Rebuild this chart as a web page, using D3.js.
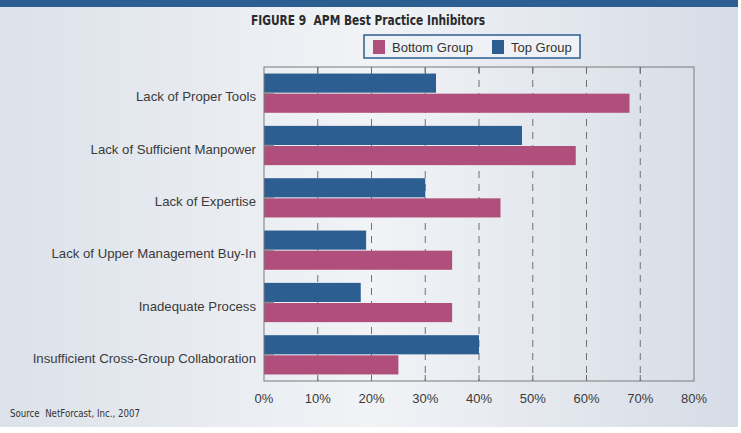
<!DOCTYPE html>
<html>
<head>
<meta charset="utf-8">
<script src="https://cdn.jsdelivr.net/npm/d3@7"></script>
<style>
  body { margin: 0; background: #fff; }
  svg { display: block; }
  text { white-space: pre; }
</style>
</head>
<body>
<svg id="chart" width="741" height="433"></svg>
<script>
// data
const categories = [
    'Lack of Proper Tools',
    'Lack of Sufficient Manpower',
    'Lack of Expertise',
    'Lack of Upper Management Buy-In',
    'Inadequate Process',
    'Insufficient Cross-Group Collaboration',
];
const topGroup = [32, 48, 30, 19, 18, 40];
const bottomGroup = [68, 58, 44, 35, 35, 25];
const seriesNames = ['Top Group', 'Bottom Group'];
const legendOrder = ['Bottom Group', 'Top Group'];
const xTicks = [0, 10, 20, 30, 40, 50, 60, 70, 80];

const colors = { 'Top Group': '#2c5e92', 'Bottom Group': '#b14f7c' };
const narrow = '"Liberation Sans Narrow", "DejaVu Sans Condensed", sans-serif';
const regular = '"Liberation Sans", Arial, sans-serif';

const svg = d3.select('#chart');

// background panel
const defs = svg.append('defs');
const grad = defs.append('linearGradient').attr('id', 'bg').attr('x1', 0).attr('x2', 1).attr('y1', 0).attr('y2', 0);
grad.append('stop').attr('offset', '0%').attr('stop-color', '#dce2ea');
grad.append('stop').attr('offset', '50%').attr('stop-color', '#f1f3f6');
grad.append('stop').attr('offset', '100%').attr('stop-color', '#d6dce6');
svg.append('rect').attr('x', 0).attr('y', 0).attr('width', 738).attr('height', 427).attr('fill', 'url(#bg)');
svg.append('rect').attr('x', 0).attr('y', 0).attr('width', 738).attr('height', 7).attr('fill', '#2c5e92');

// title
svg.append('text')
    .attr('x', 251).attr('y', 25)
    .attr('textLength', 234)
    .attr('lengthAdjust', 'spacingAndGlyphs')
    .style('font-family', narrow)
    .style('font-weight', 'bold')
    .style('font-size', '14.5px')
    .style('fill', '#2a2a2a')
    .text('FIGURE 9  APM Best Practice Inhibitors');

const plot = { left: 264, right: 694, top: 67, bottom: 381 };

const x = d3.scaleLinear().domain([0, 80]).range([plot.left, plot.right]);
const y = d3.scaleBand().domain(categories).range([plot.top, plot.bottom])
    .paddingInner(0.25).paddingOuter(0.125);
const ySub = d3.scaleBand().domain(seriesNames).range([0, y.bandwidth()]).paddingInner(0.05);

// dashed grid
svg.append('g')
    .selectAll('line')
    .data(xTicks.slice(1, -1))
    .enter()
    .append('line')
    .attr('x1', (d) => x(d)).attr('x2', (d) => x(d))
    .attr('y1', plot.top).attr('y2', plot.bottom)
    .attr('stroke', '#707070')
    .attr('stroke-width', 1)
    .attr('stroke-dasharray', '7,6');

// bars
const rows = categories.map((c, i) => ({ cat: c, values: [
    { key: 'Top Group', value: topGroup[i] },
    { key: 'Bottom Group', value: bottomGroup[i] },
] }));

const groups = svg.append('g')
    .selectAll('g')
    .data(rows)
    .enter()
    .append('g')
    .attr('transform', (d) => `translate(0, ${ y(d.cat) })`);

groups.selectAll('rect')
    .data((d) => d.values)
    .enter()
    .append('rect')
    .attr('x', x(0))
    .attr('y', (d) => ySub(d.key))
    .attr('width', (d) => x(d.value) - x(0))
    .attr('height', ySub.bandwidth())
    .attr('fill', (d) => colors[d.key]);

// small inward tick at category center
groups.append('line')
    .attr('x1', x(0)).attr('x2', x(0) + 10)
    .attr('y1', y.bandwidth() / 2).attr('y2', y.bandwidth() / 2)
    .attr('stroke', '#8a8a8a')
    .attr('stroke-width', 1.5);

// plot frame
svg.append('rect')
    .attr('x', plot.left).attr('y', plot.top)
    .attr('width', plot.right - plot.left).attr('height', plot.bottom - plot.top)
    .attr('fill', 'none')
    .attr('stroke', '#7a7a7a')
    .attr('stroke-width', 1);

// short solid ticks at top and bottom edges
[plot.top, plot.bottom - 6].forEach((yy) => {
    svg.append('g')
        .selectAll('line')
        .data(xTicks.slice(1, -1))
        .enter()
        .append('line')
        .attr('x1', (d) => x(d)).attr('x2', (d) => x(d))
        .attr('y1', yy).attr('y2', yy + 6)
        .attr('stroke', '#6a6a6a');
});

// category labels
svg.append('g')
    .selectAll('text')
    .data(categories)
    .enter()
    .append('text')
    .attr('x', plot.left - 8)
    .attr('y', (d) => y(d) + y.bandwidth() / 2 + 8)
    .attr('text-anchor', 'end')
    .style('font-family', regular)
    .style('font-size', '13.2px')
    .style('fill', '#3a3a3a')
    .text((d) => d);

// x axis labels
svg.append('g')
    .selectAll('text')
    .data(xTicks)
    .enter()
    .append('text')
    .attr('x', (d) => x(d))
    .attr('y', 403)
    .attr('text-anchor', 'middle')
    .style('font-family', regular)
    .style('font-size', '13px')
    .style('fill', '#3a3a3a')
    .text((d) => d + '%');

// legend
const legend = svg.append('g').attr('transform', 'translate(364, 35)');
legend.append('rect')
    .attr('width', 216).attr('height', 23)
    .attr('fill', '#eef1f5')
    .attr('stroke', '#2c5e92')
    .attr('stroke-width', 1.5);
const legendX = [9, 128];
legendOrder.forEach((name, i) => {
    legend.append('rect')
        .attr('x', legendX[i]).attr('y', 5)
        .attr('width', 12).attr('height', 14)
        .attr('fill', colors[name]);
    legend.append('text')
        .attr('x', legendX[i] + 19).attr('y', 17)
        .style('font-family', regular)
        .style('font-size', '13px')
        .style('fill', '#333')
        .text(name);
});

// source note
svg.append('text')
    .attr('x', 10).attr('y', 417)
    .attr('textLength', 130)
    .attr('lengthAdjust', 'spacingAndGlyphs')
    .style('font-family', narrow)
    .style('font-size', '11px')
    .style('fill', '#333')
    .text('Source  NetForcast, Inc., 2007');
</script>
</body>
</html>
